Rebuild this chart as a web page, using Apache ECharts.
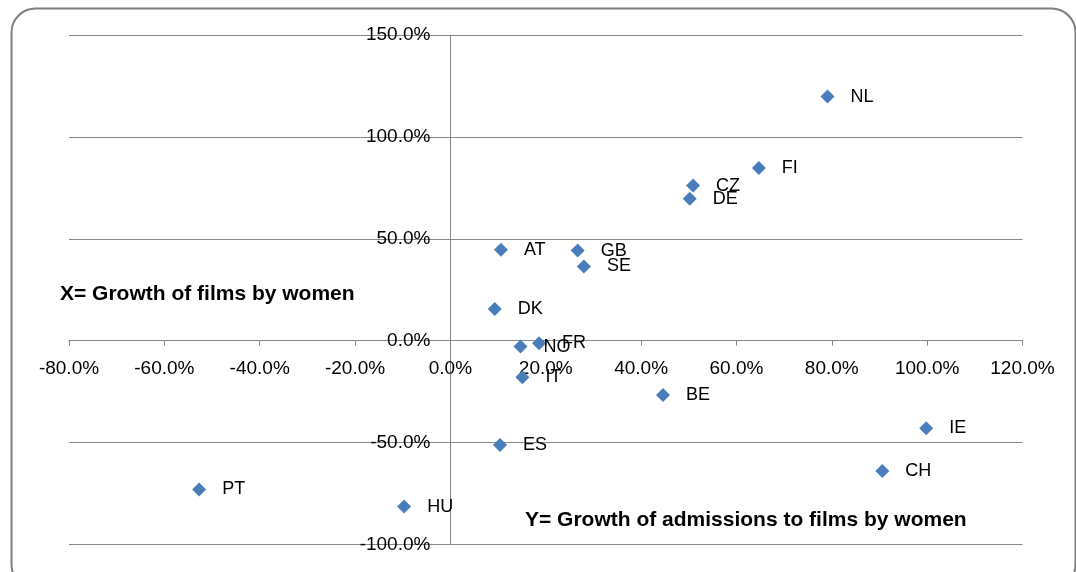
<!DOCTYPE html>
<html>
<head>
<meta charset="utf-8">
<script src="https://cdn.jsdelivr.net/npm/echarts@6/dist/echarts.min.js"></script>
<style>
  html, body { margin: 0; padding: 0; background: #fff; }
  #chart { width: 1076px; height: 572px; }
</style>
</head>
<body>
<div id="chart"></div>
<script>
// Country codes
var countries = ['NL', 'FI', 'CZ', 'DE', 'AT', 'GB', 'SE', 'DK', 'NO', 'FR', 'IT', 'BE', 'ES', 'IE', 'CH', 'PT', 'HU'];
// X = growth of films by women (%)
var xValues = [79.1, 64.7, 50.9, 50.2, 10.6, 26.7, 28.0, 9.3, 14.7, 18.6, 15.1, 44.6, 10.4, 99.8, 90.6, -52.7, -9.7];
// Y = growth of admissions to films by women (%)
var yValues = [119.8, 84.7, 76.1, 69.6, 44.6, 44.2, 36.4, 15.6, -2.9, -1.2, -17.9, -26.6, -51.2, -43.0, -63.9, -73.0, -81.4];
// Axis settings
var xMin = -80, xMax = 120, xStep = 20;
var yMin = -100, yMax = 150, yStep = 50;
var xTitle = 'X= Growth of films by women';
var yTitle = 'Y= Growth of admissions to films by women';

var points = countries.map(function (c, i) { return [xValues[i], yValues[i], c]; });

var W = 1076, H = 572;
var G = { left: 69, right: 53.5, top: 35, bottom: 27.5 };
var plotW = W - G.left - G.right, plotH = H - G.top - G.bottom;
// shift axes so they cross at the origin (layout, not data)
var xAxisOffset = -plotH * (0 - yMin) / (yMax - yMin);
var yAxisOffset = -plotW * (0 - xMin) / (xMax - xMin);

var FONT = 'Liberation Sans';
var GRAY = '#868686';
function pct(v) { return v.toFixed(1) + '%'; }

var chart = echarts.init(document.getElementById('chart'), null, { renderer: 'canvas' });
chart.setOption({
  animation: false,
  backgroundColor: '#ffffff',
  grid: { left: G.left, right: G.right, top: G.top, bottom: G.bottom, containLabel: false, outerBoundsMode: 'none' },
  xAxis: {
    type: 'value', min: xMin, max: xMax, interval: xStep,
    position: 'bottom', offset: xAxisOffset,
    axisLine: { show: true, onZero: false, lineStyle: { color: GRAY, width: 1 } },
    axisTick: { show: true, length: 5, lineStyle: { color: GRAY } },
    axisLabel: { formatter: pct, color: '#000', fontFamily: FONT, fontSize: 19, margin: 19 },
    splitLine: { show: false }
  },
  yAxis: {
    type: 'value', min: yMin, max: yMax, interval: yStep,
    position: 'left', offset: yAxisOffset,
    axisLine: { show: true, onZero: false, lineStyle: { color: GRAY, width: 1 } },
    axisTick: { show: true, length: 5, lineStyle: { color: GRAY } },
    axisLabel: { formatter: pct, color: '#000', fontFamily: FONT, fontSize: 19, margin: 20 },
    splitLine: { show: true, lineStyle: { color: GRAY, width: 1 } }
  },
  series: [{
    type: 'scatter',
    symbol: 'diamond',
    symbolSize: 14,
    itemStyle: { color: '#4A7EBB', opacity: 1 },
    emphasis: { disabled: true },
    label: {
      show: true, position: 'right', distance: 16,
      formatter: function (p) { return p.data[2]; },
      color: '#000', fontFamily: FONT, fontSize: 18
    },
    data: points
  }],
  graphic: [
    {
      type: 'rect', left: 9, top: 6, silent: true, z: -1,
      shape: { width: 1064, height: 580, r: 24 },
      style: { fill: 'none', stroke: '#7f7f7f', lineWidth: 2 }
    },
    {
      type: 'text', x: 60, y: 294, silent: true,
      style: { text: xTitle, fill: '#000', font: 'bold 21px "Liberation Sans"', textVerticalAlign: 'middle' }
    },
    {
      type: 'text', x: 525, y: 520, silent: true,
      style: { text: yTitle, fill: '#000', font: 'bold 21px "Liberation Sans"', textVerticalAlign: 'middle' }
    }
  ]
});
</script>
</body>
</html>
